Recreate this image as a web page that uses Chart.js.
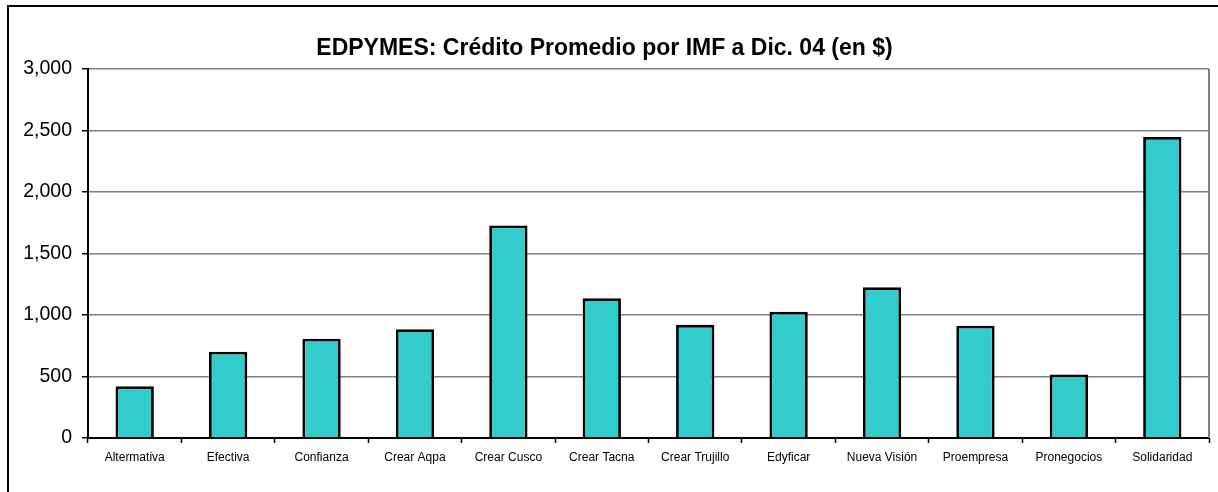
<!DOCTYPE html>
<html>
<head>
<meta charset="utf-8">
<script src="https://cdn.jsdelivr.net/npm/chart.js@4/dist/chart.umd.min.js"></script>
<style>
  html, body { margin: 0; padding: 0; background: #fff; }
  #wrap { position: relative; width: 1218px; height: 492px; }
</style>
</head>
<body>
<div id="wrap"><canvas id="bar-chart" width="1218" height="492"></canvas></div>
<script>
const titleText = "EDPYMES: Crédito Promedio por IMF a Dic. 04 (en $)";

const categories = [
  "Altermativa", "Efectiva", "Confianza", "Crear Aqpa", "Crear Cusco", "Crear Tacna",
  "Crear Trujillo", "Edyficar", "Nueva Visión", "Proempresa", "Pronegocios", "Solidaridad"
];

const creditValues = [420, 702, 807, 884, 1728, 1136, 920, 1027, 1225, 912, 517, 2448];

const yTicks = [0, 500, 1000, 1500, 2000, 2500, 3000];

const fontFamily = "'Liberation Sans', Arial, sans-serif";

// frame around the whole chart + grey right edge of the plot area
const framePlugin = {
  id: 'frame',
  afterDraw(chart) {
    const c = chart.ctx;
    const area = chart.chartArea;
    c.save();
    c.strokeStyle = '#808080';
    c.lineWidth = 2;
    c.beginPath();
    c.moveTo(area.right, area.top);
    c.lineTo(area.right, area.bottom);
    c.stroke();
    c.strokeStyle = '#000';
    c.lineWidth = 2;
    c.beginPath();
    c.moveTo(8, chart.height);
    c.lineTo(8, 6);
    c.lineTo(chart.width, 6);
    c.stroke();
    c.restore();
  }
};

const ctx = document.getElementById('bar-chart').getContext('2d');
const chart = new Chart(ctx, {
  type: 'bar',
  data: {
    labels: categories,
    datasets: [{
      label: 'Crédito Promedio',
      data: creditValues,
      backgroundColor: '#33CCCC',
      borderColor: '#000',
      borderWidth: 2.8,
      barPercentage: 0.41,
      categoryPercentage: 1
    }]
  },
  options: {
    responsive: false,
    animation: false,
    layout: { padding: { left: 0, right: 9, top: 0, bottom: 0 } },
    plugins: {
      legend: { display: false },
      tooltip: { enabled: false },
      title: {
        display: true,
        text: titleText,
        color: '#000',
        font: { family: fontFamily, size: 23, weight: 'bold' },
        padding: { top: 35, bottom: 6.4 }
      }
    },
    scales: {
      x: {
        grid: {
          offset: true,
          drawOnChartArea: false,
          drawTicks: true,
          tickLength: 5,
          tickColor: '#000',
          tickWidth: 1.5
        },
        border: { color: '#000', width: 2 },
        ticks: {
          color: '#000',
          font: { family: fontFamily, size: 12 },
          maxRotation: 0,
          autoSkip: false,
          padding: 7
        },
        afterFit: s => { s.height = 54; }
      },
      y: {
        min: 0,
        max: 3000,
        afterBuildTicks: s => { s.ticks = yTicks.map(v => ({ value: v })); },
        grid: {
          color: '#808080',
          lineWidth: 1.5,
          tickLength: 6,
          tickColor: '#000',
          tickWidth: 1.5
        },
        border: { color: '#000', width: 2 },
        ticks: {
          color: '#000',
          font: { family: fontFamily, size: 19.5 },
          padding: 10,
          callback: v => v.toLocaleString('en-US')
        },
        afterFit: s => { s.width = 88; }
      }
    }
  },
  plugins: [framePlugin]
});
</script>
</body>
</html>
